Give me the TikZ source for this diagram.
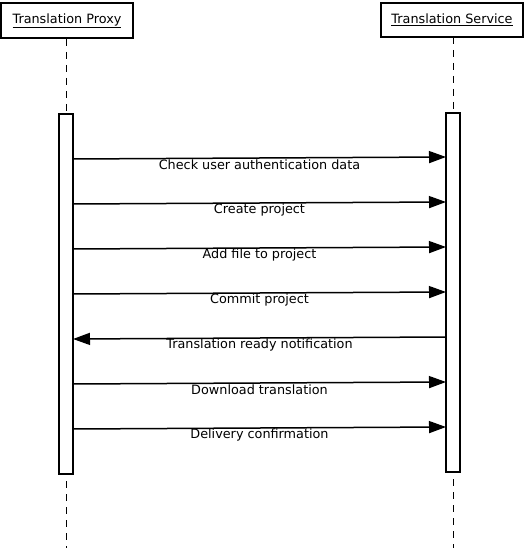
\documentclass[tikz,border=0pt]{standalone}
\usepackage{fontspec}
\setmainfont{DejaVu Sans}
\usetikzlibrary{arrows.meta, positioning}

\tikzset{
  actor/.style={draw, line width=2pt, minimum height=35pt, inner xsep=8pt, font=\fontsize{12.8}{15}\selectfont},
  bar/.style={draw, line width=1.6pt, fill=white},
  life/.style={line width=1pt, dash pattern=on 7pt off 6pt},
  msg/.style={line width=1.5pt, -{Triangle[length=17pt,width=12pt]}},
  lbl/.style={midway, yshift=-6.5pt, inner sep=0pt, font=\fontsize{12.8}{15}\selectfont}
}

\begin{document}
\begin{tikzpicture}[x=1pt, y=1pt]
\useasboundingbox (0,0) rectangle (525,-553);

% actors
\node[actor, minimum width=132pt] (proxy) at (67,-21) {\underline{Translation Proxy}};
\node[actor, minimum width=142pt, minimum height=34pt] (service) at (452,-20) {\underline{Translation Service}};

% lifelines
\coordinate (proxyEnd) at (66,-548);
\coordinate (serviceEnd) at (453,-548);
\draw[life] (66,-39) -- (proxyEnd);
\draw[life] (453,-37) -- (serviceEnd);

% activation bars
\draw[bar] (59,-114) rectangle (73,-474);
\draw[bar] (446,-113) rectangle (460,-472);

% message points
\coordinate (P1) at (73,-159);
\coordinate (S1) at (446,-157);
\coordinate (P2) at (73,-204);
\coordinate (S2) at (446,-202);
\coordinate (P3) at (73,-249);
\coordinate (S3) at (446,-247);
\coordinate (P4) at (73,-294);
\coordinate (S4) at (446,-292);
\coordinate (P5) at (73,-339);
\coordinate (S5) at (446,-337);
\coordinate (P6) at (73,-384);
\coordinate (S6) at (446,-382);
\coordinate (P7) at (73,-429);
\coordinate (S7) at (446,-427);

% messages
\draw[msg] (P1) -- (S1) node[lbl] {Check user authentication data};
\draw[msg] (P2) -- (S2) node[lbl] {Create project};
\draw[msg] (P3) -- (S3) node[lbl] {Add file to project};
\draw[msg] (P4) -- (S4) node[lbl] {Commit project};
\draw[msg] (S5) -- (P5) node[lbl] {Translation ready notification};
\draw[msg] (P6) -- (S6) node[lbl] {Download translation};
\draw[msg] (P7) -- (S7) node[lbl] {Delivery confirmation};

\end{tikzpicture}
\end{document}
